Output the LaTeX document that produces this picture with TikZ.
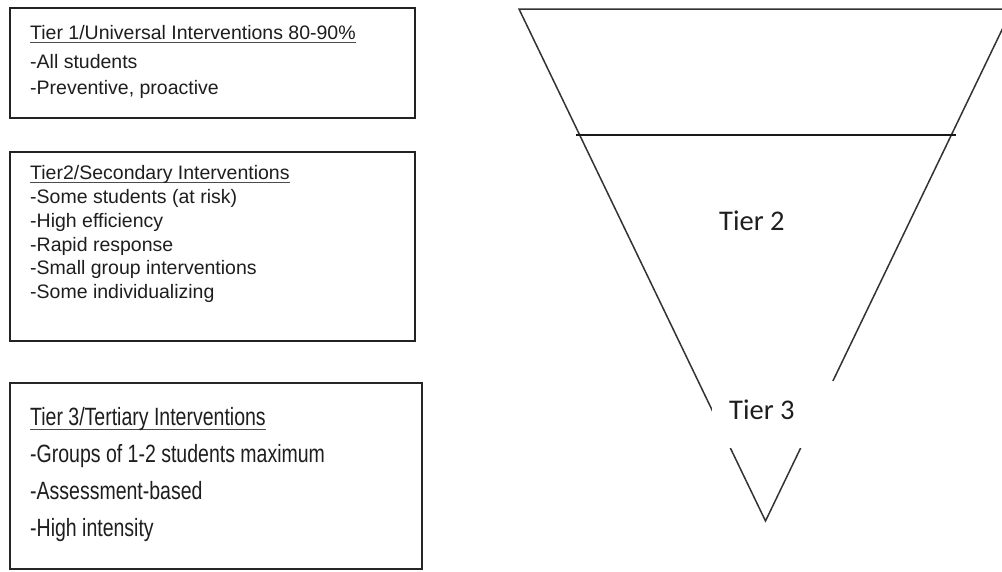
\documentclass[tikz,border=0pt]{standalone}
\usepackage{fontspec}
\setmainfont{Liberation Sans}
\newfontfamily\arialfont{Liberation Sans}
\newfontfamily\arialnarrow[FakeStretch=0.78]{Liberation Sans}
\newfontfamily\calibrifont{Carlito}
\newcommand{\ulx}[2]{\setbox0\hbox{#2}\rlap{\color{black!70}\rule[-#1]{\wd0}{1.4pt}}\box0}
\definecolor{ink}{HTML}{1E1E1E}
\definecolor{edge}{HTML}{222222}
\tikzset{
  boxframe/.style={draw=edge, line width=2pt, fill=white},
  smalltxt/.style={anchor=base west, inner sep=0pt, text=ink, font=\arialfont\fontsize{19.5}{23}\selectfont},
  bigtxt/.style={anchor=base west, inner sep=0pt, text=ink, font=\arialnarrow\fontsize{25}{30}\selectfont},
  tierlabel/.style={anchor=base west, inner sep=0pt, text=ink, font=\calibrifont\fontsize{28.5}{34}\selectfont},
  trline/.style={draw=black!80, line width=1.5pt},
}
\begin{document}
\begin{tikzpicture}[x=1pt,y=-1pt]
\useasboundingbox (0,0) rectangle (1002,571);
\clip (0,0) rectangle (1002,571);
% boxes
\draw[boxframe] (10,7.5) rectangle (415,118);
\draw[boxframe] (10,152) rectangle (415,341);
\draw[boxframe, draw=black!85] (10,383) rectangle (422,569);
% box 1
\node[smalltxt] (b1t) at (30,39) {\ulx{4pt}{Tier 1/Universal Interventions 80-90\%}};
\node[smalltxt] (b1a) at (30,68) {-All students};
\node[smalltxt] (b1b) at (30,94) {-Preventive, proactive};
% box 2
\node[smalltxt] (b2t) at (30,179) {\ulx{4pt}{Tier2/Secondary Interventions}};
\node[smalltxt] (b2a) at (30,203) {-Some students (at risk)};
\node[smalltxt] (b2b) at (30,227) {-High efficiency};
\node[smalltxt] (b2c) at (30,251) {-Rapid response};
\node[smalltxt] (b2d) at (30,274) {-Small group interventions};
\node[smalltxt] (b2e) at (30,298) {-Some individualizing};
% box 3
\node[bigtxt] (b3t) at (30,425) {\ulx{5pt}{Tier 3/Tertiary Interventions}};
\node[bigtxt] (b3a) at (30,462) {-Groups of 1-2 students maximum};
\node[bigtxt] (b3b) at (30,499) {-Assessment-based};
\node[bigtxt] (b3c) at (30,536) {-High intensity};
% funnel
\coordinate (tl) at (519,9);
\coordinate (tr) at (1012,9);
\coordinate (ap) at (765.5,521);
\coordinate (hl) at (576,135);
\coordinate (hr) at (956,135);
\draw[trline, line join=miter] (ap) -- (tl) -- (tr) -- cycle;
\draw[draw=black!90, line width=1.5pt] (hl) -- (hr);
\node[tierlabel] (tier2) at (719,230.5) {Tier 2};
\node[fill=white, inner sep=0pt, minimum width=128pt, minimum height=67pt] (t3box) at (776,414.5) {};
\node[tierlabel] (tier3) at (729,419) {Tier 3};
\end{tikzpicture}
\end{document}
